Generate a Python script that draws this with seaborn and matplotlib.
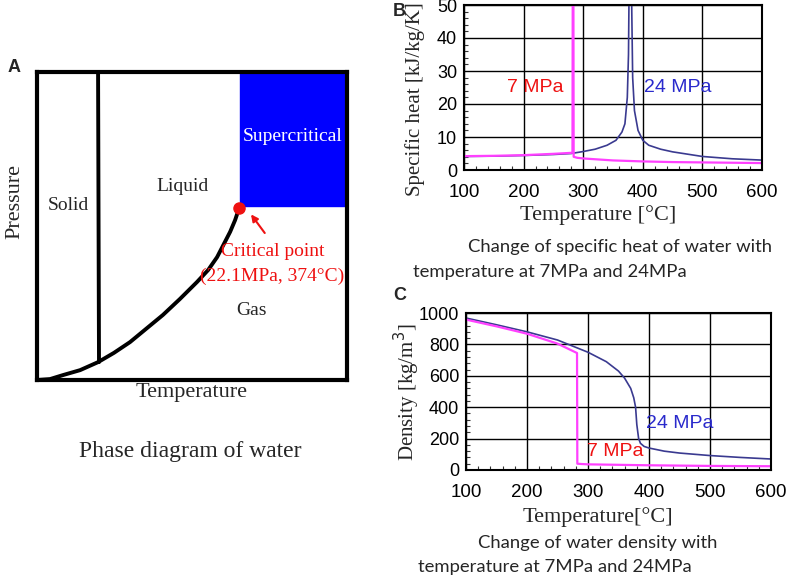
import numpy as np
import pandas as pd
import seaborn as sns
import matplotlib.pyplot as plt
from matplotlib.patches import Rectangle
from matplotlib.ticker import MultipleLocator

sns.set_theme(style="white")
plt.rcParams['font.family'] = ['Liberation Sans', 'DejaVu Sans']

# ---- panel A: schematic phase diagram (axes units 0..1)
boil_x = [0.0, 0.042, 0.084, 0.139, 0.197, 0.248, 0.30, 0.406, 0.461, 0.516, 0.552, 0.581, 0.623, 0.639, 0.652]
boil_y = [0.0, 0.003, 0.016, 0.032, 0.058, 0.088, 0.123, 0.211, 0.263, 0.318, 0.357, 0.399, 0.481, 0.519, 0.558]
melt_x = [0.2, 0.197]
melt_y = [0.058, 1.0]
crit = (0.652, 0.558)

# ---- panel B: specific heat [kJ/kg/K]
cp7_t = [100, 150, 200, 250, 280, 282, 282.5, 283.5, 284, 290, 300, 350, 400, 450, 500, 550, 600]
cp7_v = [4.2, 4.3, 4.5, 4.9, 5.2, 5.4, 60, 60, 4.0, 3.7, 3.5, 2.9, 2.6, 2.4, 2.3, 2.2, 2.1]
cp24_t = [100, 150, 200, 250, 280, 300, 320, 340, 355, 365, 370, 374, 376, 377, 381, 383, 386, 392, 400, 410, 430, 450, 500, 550, 600]
cp24_v = [4.1, 4.2, 4.4, 4.7, 5.0, 5.6, 6.3, 7.5, 9.0, 11.5, 14, 22, 35, 55, 55, 28, 18, 12, 9.0, 7.5, 6.3, 5.5, 4.1, 3.4, 3.0]

# ---- panel C: density [kg/m3]
rho7_t = [100, 150, 200, 250, 282, 282.5, 290, 300, 350, 400, 450, 500, 550, 600]
rho7_v = [958, 915, 868, 805, 745, 40, 38, 36, 33, 30, 28, 26, 25, 24]
rho24_t = [100, 150, 200, 250, 300, 330, 350, 360, 370, 375, 378, 380, 383, 386, 392, 400, 425, 450, 500, 550, 600]
rho24_v = [968, 925, 880, 828, 750, 690, 630, 585, 520, 460, 400, 290, 200, 170, 150, 140, 120, 108, 92, 80, 70]

W, H = 796, 579
def fx(px): return px / W
def fy(py): return 1 - py / H
def box(x0, y0, x1, y1): return [fx(x0), fy(y1), (x1 - x0) / W, (y1 - y0) / H]

serif = ['Liberation Serif', 'DejaVu Serif']
capf = ['Lato', 'DejaVu Sans']
pink = '#ff40ff'
navy = '#3a3a90'

fig = plt.figure(figsize=(7.96, 5.79), dpi=100)

# ================= A =================
axA = fig.add_axes(box(37, 72, 347, 380))
axA.set_xlim(0, 1)
axA.set_ylim(0, 1)
axA.add_patch(Rectangle((crit[0] + 0.003, crit[1] + 0.007), 1 - crit[0], 1 - crit[1], color='#0000ff', zorder=1))
sns.lineplot(x=boil_x, y=boil_y, ax=axA, color='black', lw=2.8, sort=False, estimator=None, zorder=3)
sns.lineplot(x=melt_x, y=melt_y, ax=axA, color='black', lw=2.8, sort=False, estimator=None, zorder=3)
axA.plot(*crit, 'o', color='#ee1111', ms=8, zorder=4)
for s in axA.spines.values():
    s.set_linewidth(3)
    s.set_color('black')
axA.set_xticks([])
axA.set_yticks([])
axA.text(0.1, 0.568, 'Solid', family=serif, fontsize=14, ha='center', va='center')
axA.text(0.47, 0.627, 'Liquid', family=serif, fontsize=14, ha='center', va='center')
axA.text(0.825, 0.792, 'Supercritical', family=serif, fontsize=14, ha='center', va='center', color='white')
axA.text(0.693, 0.227, 'Gas', family=serif, fontsize=14, ha='center', va='center')
axA.text(0.76, 0.416, 'Critical point', family=serif, fontsize=14, ha='center', va='center', color='#ee1111')
axA.text(0.76, 0.335, '(22.1MPa, 374°C)', family=serif, fontsize=14, ha='center', va='center', color='#ee1111')
axA.annotate('', xy=(0.685, 0.545), xytext=(0.74, 0.47),
             arrowprops=dict(arrowstyle='-|>', color='#ee1111', lw=1.5, mutation_scale=10))
axA.set_xlabel('Temperature', family=serif, fontsize=16, labelpad=2)
axA.set_ylabel('Pressure', family=serif, fontsize=16)
axA.yaxis.set_label_coords(-0.071, 0.578)
axA.yaxis.label.set_verticalalignment('center')
fig.text(fx(190), fy(452), 'Phase diagram of water', family=serif, fontsize=17, ha='center', va='center')
fig.text(fx(8), fy(67), 'A', fontsize=13, fontweight='bold', ha='left', va='center')


def style_ax(ax, xmin, ymin):
    ax.grid(True, color='black', lw=1)
    for s in ax.spines.values():
        s.set_linewidth(1.5)
        s.set_color('black')
    ax.xaxis.set_minor_locator(MultipleLocator(xmin))
    ax.yaxis.set_minor_locator(MultipleLocator(ymin))
    ax.tick_params(which='major', length=0, labelsize=13, colors='black')
    ax.tick_params(axis='y', which='major', pad=5)
    ax.tick_params(axis='x', which='major', pad=10, labelsize=13.5)
    ax.tick_params(which='minor', direction='in', length=3, width=0.8,
                   bottom=True, left=True, top=False, right=False, colors='#333333')


# ================= B =================
axB = fig.add_axes(box(464, 5, 762, 170))
dB7 = pd.DataFrame({'t': cp7_t, 'v': cp7_v})
dB24 = pd.DataFrame({'t': cp24_t, 'v': cp24_v})
sns.lineplot(data=dB24, x='t', y='v', ax=axB, color=navy, lw=1.2, sort=False, estimator=None)
sns.lineplot(data=dB7, x='t', y='v', ax=axB, color=pink, lw=1.6, sort=False, estimator=None)
axB.set_xlim(100, 600)
axB.set_ylim(0, 50)
axB.set_xticks(range(100, 601, 100))
axB.set_yticks(range(0, 51, 10))
style_ax(axB, 20, 2)
axB.set_xlabel('')
axB.set_ylabel('')
axB.text(0.24, 0.497, '7 MPa', transform=axB.transAxes, color='#ee1111', fontsize=14, ha='center', va='center')
axB.text(0.718, 0.497, '24 MPa', transform=axB.transAxes, color='#2a2acc', fontsize=14, ha='center', va='center')
fig.text(fx(415), fy(99), 'Specific heat [kJ/kg/K]', family=serif, fontsize=15, rotation=90, ha='center', va='center')
fig.text(fx(598), fy(215), 'Temperature [°C]', family=serif, fontsize=16, ha='center', va='center')
fig.text(fx(468), fy(247), 'Change of specific heat of water with', family=capf, fontsize=13.3, ha='left', va='center')
fig.text(fx(413), fy(272), 'temperature at 7MPa and 24MPa', family=capf, fontsize=13.3, ha='left', va='center')
fig.text(fx(393), fy(12), 'B', fontsize=13, fontweight='bold', ha='left', va='center')

# ================= C =================
axC = fig.add_axes(box(466, 313, 771, 470))
dC7 = pd.DataFrame({'t': rho7_t, 'v': rho7_v})
dC24 = pd.DataFrame({'t': rho24_t, 'v': rho24_v})
sns.lineplot(data=dC24, x='t', y='v', ax=axC, color=navy, lw=1.2, sort=False, estimator=None)
sns.lineplot(data=dC7, x='t', y='v', ax=axC, color=pink, lw=1.6, sort=False, estimator=None)
axC.set_xlim(100, 600)
axC.set_ylim(0, 1000)
axC.set_xticks(range(100, 601, 100))
axC.set_yticks(range(0, 1001, 200))
style_ax(axC, 20, 40)
axC.set_xlabel('')
axC.set_ylabel('')
axC.text(0.70, 0.295, '24 MPa', transform=axC.transAxes, color='#2a2acc', fontsize=14, ha='center', va='center')
axC.text(0.49, 0.115, '7 MPa', transform=axC.transAxes, color='#ee1111', fontsize=14, ha='center', va='center')
fig.text(fx(407), fy(392), 'Density [kg/m$^3$]', family=serif, fontsize=15, rotation=90, ha='center', va='center')
fig.text(fx(598), fy(517), 'Temperature[°C]', family=serif, fontsize=16, ha='center', va='center')
fig.text(fx(478), fy(543), 'Change of water density with', family=capf, fontsize=13.3, ha='left', va='center')
fig.text(fx(418), fy(567), 'temperature at 7MPa and 24MPa', family=capf, fontsize=13.3, ha='left', va='center')
fig.text(fx(393), fy(295), 'C', fontsize=13, fontweight='bold', ha='left', va='center')

fig.savefig('out.png', dpi=100)
